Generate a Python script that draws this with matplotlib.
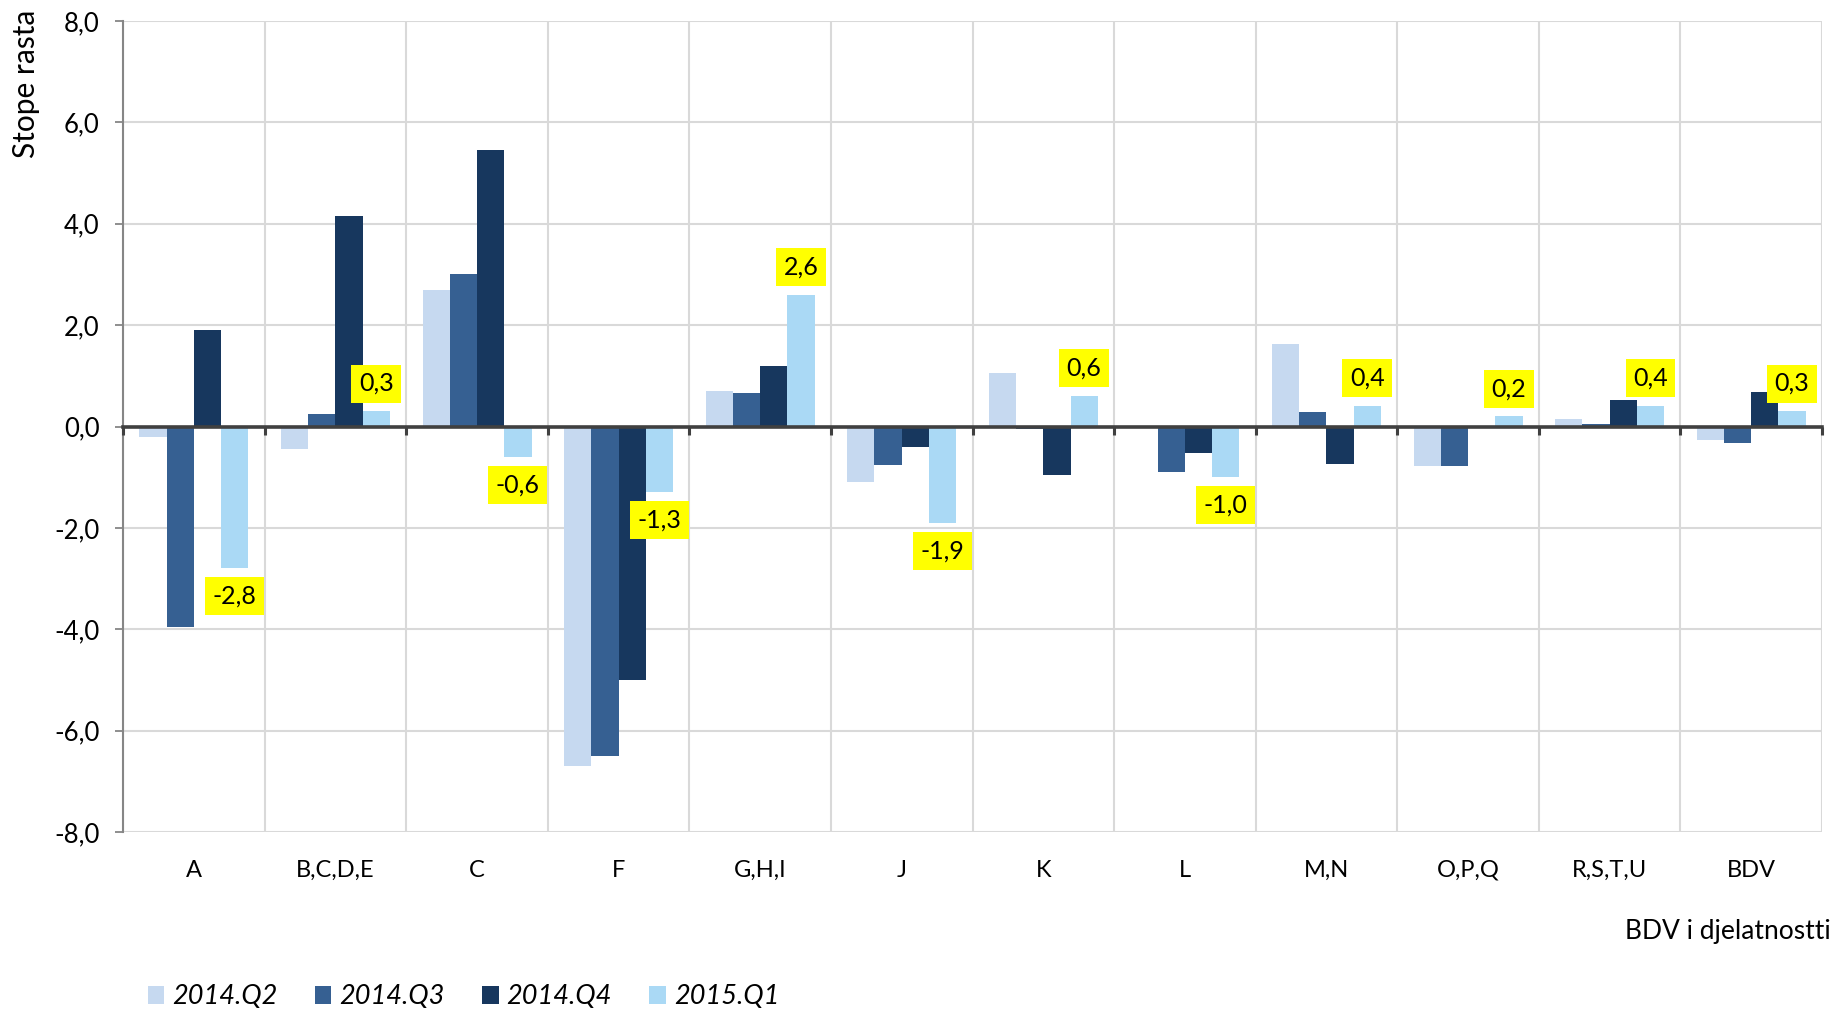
import numpy as np
import matplotlib.pyplot as plt
from matplotlib.ticker import FuncFormatter

plt.rcParams['font.family'] = ['Lato', 'DejaVu Sans']

# podaci (stope rasta po djelatnostima)
categories = ['A', 'B,C,D,E', 'C', 'F', 'G,H,I', 'J', 'K', 'L', 'M,N', 'O,P,Q', 'R,S,T,U', 'BDV']
series_names = ['2014.Q2', '2014.Q3', '2014.Q4', '2015.Q1']
q2_2014 = [-0.2, -0.45, 2.7, -6.7, 0.7, -1.1, 1.05, 0.02, 1.63, -0.77, 0.15, -0.26]
q3_2014 = [-3.95, 0.25, 3.0, -6.5, 0.66, -0.76, -0.05, -0.89, 0.28, -0.78, 0.05, -0.32]
q4_2014 = [1.9, 4.15, 5.45, -5.0, 1.2, -0.4, -0.95, -0.53, -0.74, 0.0, 0.52, 0.68]
q1_2015 = [-2.8, 0.3, -0.6, -1.3, 2.6, -1.9, 0.6, -1.0, 0.4, 0.2, 0.4, 0.3]
colors = ['#C6D9F0', '#366092', '#17375E', '#AAD9F5']

series = [q2_2014, q3_2014, q4_2014, q1_2015]

fig = plt.figure(figsize=(18.37, 10.10), dpi=100)
ax = fig.add_axes([0.067, 0.1762, 0.9248, 0.803])

x = np.arange(len(categories))
w = 0.77 / 4
bars = []
for i, (vals, c, name) in enumerate(zip(series, colors, series_names)):
    b = ax.bar(x + (i - 1.5) * w, vals, w, color=c, label=name, zorder=2)
    bars.append(b)

# oznake samo za 2015.Q1
for xi, v in zip(x + 1.5 * w, q1_2015):
    off = 20 if v >= 0 else -20
    ax.annotate(f"{v:.1f}".replace('.', ','), (xi, v), xytext=(0, off),
                textcoords='offset points', ha='center', va='center', fontsize=18,
                bbox=dict(boxstyle='square,pad=0.3', facecolor='#FFFF00', edgecolor='none'),
                zorder=6)

ax.set_xlim(-0.5, len(categories) - 0.5)
ax.set_ylim(-8, 8)
ax.set_yticks(np.arange(-8, 8.1, 2))
ax.yaxis.set_major_formatter(FuncFormatter(lambda v, p: f"{v:.1f}".replace('.', ',')))

ax.set_xticks(x)
ax.set_xticklabels(categories)
ax.set_xticks(np.arange(-0.5, len(categories), 1), minor=True)
ax.tick_params(axis='x', which='both', length=0, pad=20, labelsize=17)
ax.tick_params(axis='y', length=6, width=1.3, color='#868686', pad=11, labelsize=18.5)

ax.grid(True, axis='y', color='#D9D9D9', lw=1.5, zorder=0)
ax.grid(True, axis='x', which='minor', color='#D9D9D9', lw=1.5, zorder=0)
ax.set_axisbelow(True)

for s in ['top', 'right', 'bottom']:
    ax.spines[s].set_visible(False)
ax.spines['left'].set_color('#868686')
ax.spines['left'].set_linewidth(1.5)

# nulta linija s oznakama
sec = ax.secondary_xaxis(0.5)
sec.set_alignment('bottom')
sec.set_xticks(np.arange(-0.5, len(categories), 1))
sec.tick_params(axis='x', length=6, width=2.2, color='#404040', labelbottom=False)
sec.spines['bottom'].set_color('#404040')
sec.spines['bottom'].set_linewidth(2.6)
sec.set_zorder(5)

fig.text(26 / 1837, 1 - 10 / 1010, 'Stope rasta', rotation=90, ha='center', va='top', fontsize=21.5)
fig.text(1831 / 1837, 1 - 931 / 1010, 'BDV i djelatnostti', ha='right', va='center', fontsize=19)

fig.legend(handles=bars, labels=series_names, loc='center left',
           bbox_to_anchor=(148 / 1837, 1 - 997 / 1010), ncol=4, frameon=False,
           prop={'style': 'italic', 'size': 19.5}, handlelength=0.6, handleheight=0.6,
           handletextpad=0.3, columnspacing=1.38, borderpad=0, borderaxespad=0)

fig.savefig('out.png', dpi=100)
